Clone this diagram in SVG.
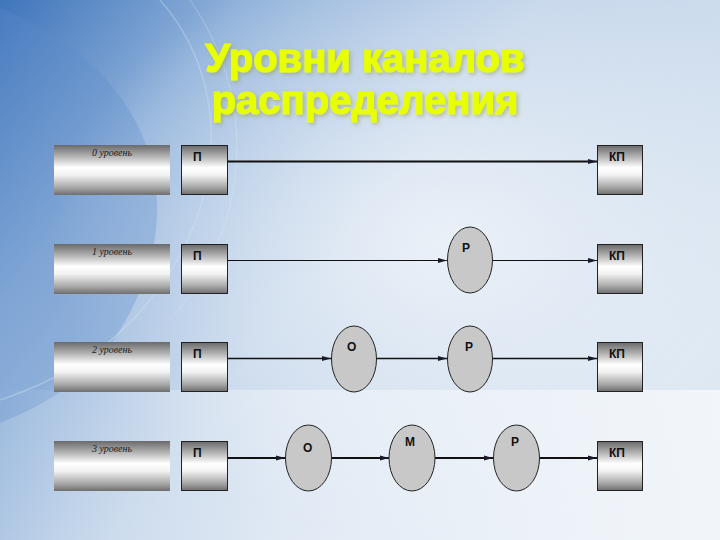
<svg xmlns="http://www.w3.org/2000/svg" width="720" height="540" viewBox="0 0 720 540">
<defs>
  <linearGradient id="bg" x1="0" y1="0" x2="1" y2="0.6">
    <stop offset="0" stop-color="#3f75bb"/>
    <stop offset="0.25" stop-color="#8fb1da"/>
    <stop offset="0.55" stop-color="#c3d5ea"/>
    <stop offset="1" stop-color="#dbe6f2"/>
  </linearGradient>
  <radialGradient id="glow" cx="0.62" cy="0.45" r="0.55">
    <stop offset="0" stop-color="#eef3f9" stop-opacity="0.9"/>
    <stop offset="1" stop-color="#eef3f9" stop-opacity="0"/>
  </radialGradient>
  <linearGradient id="bottom" x1="0" y1="0" x2="1" y2="0">
    <stop offset="0" stop-color="#e6edf6" stop-opacity="0"/>
    <stop offset="0.4" stop-color="#eef3f9" stop-opacity="0.6"/>
    <stop offset="1" stop-color="#f4f7fb" stop-opacity="0.9"/>
  </linearGradient>
  <linearGradient id="metal" x1="0" y1="0" x2="0" y2="1">
    <stop offset="0" stop-color="#6a6a6a"/>
    <stop offset="0.22" stop-color="#b0b0b0"/>
    <stop offset="0.45" stop-color="#ffffff"/>
    <stop offset="0.6" stop-color="#f2f2f2"/>
    <stop offset="0.85" stop-color="#a8a8a8"/>
    <stop offset="1" stop-color="#6e6e6e"/>
  </linearGradient>
  <filter id="shadow" x="-10%" y="-20%" width="120%" height="140%">
    <feGaussianBlur in="SourceAlpha" stdDeviation="2"/>
    <feOffset dx="2" dy="2" result="b"/>
    <feFlood flood-color="#9aa060" flood-opacity="0.6"/>
    <feComposite in2="b" operator="in"/>
    <feMerge><feMergeNode/><feMergeNode in="SourceGraphic"/></feMerge>
  </filter>
  <marker id="arr" markerUnits="userSpaceOnUse" markerWidth="10" markerHeight="8" refX="9" refY="4" orient="auto">
    <path d="M0,1.5 L9,4 L0,6.5 Z" fill="#1a1a2a"/>
  </marker>
  <style>
    .lvl{fill:url(#metal);}
    .box{fill:url(#metal);stroke:#222;stroke-width:1;}
    .node{fill:#c8c8c8;stroke:#222;stroke-width:1;}
    .lt{font-family:"Liberation Serif",serif;font-style:italic;font-size:10px;fill:#222;text-anchor:middle;}
    .bt{font-family:"Liberation Sans",Arial,sans-serif;font-weight:bold;font-size:12px;fill:#111;}
    .title{font-family:"Liberation Sans",Arial,sans-serif;font-weight:bold;font-size:40px;fill:#e8ff00;stroke:#e8ff00;stroke-width:1.2;text-anchor:middle;}
    .ln{stroke:#111;fill:none;}
  </style>
</defs>
<rect width="720" height="540" fill="url(#bg)"/>
<rect width="720" height="540" fill="url(#glow)"/>
<path d="M-20,0 C150,60 200,200 120,330 C90,380 40,410 -20,430 Z" fill="#5d8ccb" opacity="0.3"/>
<path d="M160,0 C230,80 230,200 150,300 C110,350 60,380 0,400" fill="none" stroke="#d6e4f4" stroke-width="1.5" opacity="0.35"/>
<path d="M190,0 C260,100 250,230 170,320" fill="none" stroke="#e4edf8" stroke-width="1" opacity="0.3"/>
<rect x="0" y="390" width="720" height="150" fill="url(#bottom)"/>

<g id="title" filter="url(#shadow)">
  <text class="title" x="365" y="72">Уровни каналов</text>
  <text class="title" x="365" y="114">распределения</text>
</g>

<g id="connectors" class="ln">
  <line x1="227" y1="161.5" x2="597" y2="161.5" stroke-width="2" marker-end="url(#arr)"/>
  <line x1="227" y1="260.5" x2="447" y2="260.5" stroke-width="1.2" marker-end="url(#arr)"/>
  <line x1="493" y1="260.5" x2="597" y2="260.5" stroke-width="1.2" marker-end="url(#arr)"/>
  <line x1="227" y1="358.5" x2="331" y2="358.5" stroke-width="1.6" marker-end="url(#arr)"/>
  <line x1="377" y1="358.5" x2="447" y2="358.5" stroke-width="1.6" marker-end="url(#arr)"/>
  <line x1="493" y1="358.5" x2="597" y2="358.5" stroke-width="1.6" marker-end="url(#arr)"/>
  <line x1="227" y1="458" x2="285" y2="458" stroke-width="2" marker-end="url(#arr)"/>
  <line x1="332" y1="458" x2="389" y2="458" stroke-width="2" marker-end="url(#arr)"/>
  <line x1="435" y1="458" x2="493" y2="458" stroke-width="2" marker-end="url(#arr)"/>
  <line x1="540" y1="458" x2="597" y2="458" stroke-width="2" marker-end="url(#arr)"/>
</g>

<g id="level0"><rect class="lvl" x="54" y="145" width="116" height="50"/><text class="lt" x="112" y="156">0 уровень</text></g>
<g id="level1"><rect class="lvl" x="54" y="244" width="116" height="50"/><text class="lt" x="112" y="255">1 уровень</text></g>
<g id="level2"><rect class="lvl" x="54" y="342" width="116" height="50"/><text class="lt" x="112" y="353">2 уровень</text></g>
<g id="level3"><rect class="lvl" x="54" y="441" width="116" height="50"/><text class="lt" x="112" y="452">3 уровень</text></g>

<g id="p0"><rect class="box" x="181.5" y="145.5" width="46" height="49"/><text class="bt" x="193" y="161">П</text></g>
<g id="p1"><rect class="box" x="181.5" y="244.5" width="46" height="49"/><text class="bt" x="193" y="260">П</text></g>
<g id="p2"><rect class="box" x="181.5" y="342.5" width="46" height="49"/><text class="bt" x="193" y="358">П</text></g>
<g id="p3"><rect class="box" x="181.5" y="441.5" width="46" height="49"/><text class="bt" x="193" y="457">П</text></g>

<g id="kp0"><rect class="box" x="597.5" y="145.5" width="45" height="49"/><text class="bt" x="609" y="161">КП</text></g>
<g id="kp1"><rect class="box" x="597.5" y="244.5" width="45" height="49"/><text class="bt" x="609" y="260">КП</text></g>
<g id="kp2"><rect class="box" x="597.5" y="342.5" width="45" height="49"/><text class="bt" x="609" y="358">КП</text></g>
<g id="kp3"><rect class="box" x="597.5" y="441.5" width="45" height="49"/><text class="bt" x="609" y="457">КП</text></g>

<g id="r1"><ellipse class="node" cx="470" cy="260" rx="22.5" ry="33"/><text class="bt" x="462" y="252">Р</text></g>
<g id="o2"><ellipse class="node" cx="354" cy="359" rx="22.5" ry="33"/><text class="bt" x="347" y="351">О</text></g>
<g id="r2"><ellipse class="node" cx="470" cy="359" rx="22.5" ry="33"/><text class="bt" x="465" y="351">Р</text></g>
<g id="o3"><ellipse class="node" cx="308.5" cy="458" rx="23" ry="33"/><text class="bt" x="303" y="452">О</text></g>
<g id="m3"><ellipse class="node" cx="412" cy="458" rx="23" ry="33"/><text class="bt" x="405" y="446">М</text></g>
<g id="r3"><ellipse class="node" cx="516.5" cy="458" rx="23" ry="33"/><text class="bt" x="511" y="446">Р</text></g>
</svg>
